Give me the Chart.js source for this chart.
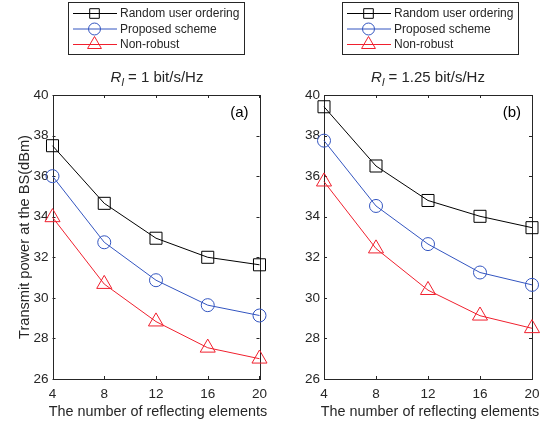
<!DOCTYPE html>
<html>
<head>
<meta charset="utf-8">
<script src="https://cdn.jsdelivr.net/npm/chart.js@4/dist/chart.umd.min.js"></script>
<style>
  html, body { margin: 0; padding: 0; background: #fff; }
  #wrap { position: relative; width: 548px; height: 425px; font-family: "Liberation Sans", Arial, sans-serif; }
  .box { position: absolute; top: 0; width: 274px; height: 425px; }
  .ttl { position: absolute; top: 68px; font-size: 15px; color: #262626; white-space: nowrap; transform: translateX(-50%); }
  .ttl sub { font-size: 11px; vertical-align: -4px; }
</style>
</head>
<body>
<div id="wrap">
  <div class="box" style="left:0"><canvas id="chartA" width="274" height="425"></canvas></div>
  <div class="box" style="left:274px"><canvas id="chartB" width="274" height="425"></canvas></div>
  <div class="ttl" style="left:157px"><i>R</i><sub><i>l</i></sub> = 1 bit/s/Hz</div>
  <div class="ttl" style="left:428px"><i>R</i><sub><i>l</i></sub> = 1.25 bit/s/Hz</div>
</div>
<script>
// numero de elementos refletores
const elementos = [4, 8, 12, 16, 20];
const yTicks = [26, 28, 30, 32, 34, 36, 38, 40];
const seriesNames = ['Random user ordering', 'Proposed scheme', 'Non-robust'];
const xTitulo = 'The number of reflecting elements';
const yTitulo = 'Transmit power at the BS(dBm)';

// (a) R_l = 1 bit/s/Hz
const randomA = [37.5, 34.66, 32.94, 32.0, 31.63];
const proposedA = [36.0, 32.74, 30.87, 29.64, 29.13];
const nonRobustA = [33.97, 30.68, 28.83, 27.54, 27.0];

// (b) R_l = 1.25 bit/s/Hz
const randomB = [39.42, 36.5, 34.8, 34.02, 33.46];
const proposedB = [37.75, 34.53, 32.65, 31.25, 30.64];
const nonRobustB = [35.73, 32.43, 30.38, 29.12, 28.5];

const axisColor = '#262626';
const estilos = [
  { cor: '#000000', ponto: 'rect', raio: 8.5 },
  { cor: '#3355c0', ponto: 'circle', raio: 6.5 },
  { cor: '#f0202e', ponto: 'triangle', raio: 8.7 },
];

function desenharMarcador(ctx, tipo, x, y, r) {
  ctx.beginPath();
  if (tipo === 'rect') {
    const s = r * Math.SQRT1_2;
    ctx.rect(x - s, y - s, 2 * s, 2 * s);
  } else if (tipo === 'circle') {
    ctx.arc(x, y, r, 0, Math.PI * 2);
  } else {
    let a = 0;
    ctx.moveTo(x + Math.sin(a) * r, y - Math.cos(a) * r);
    a += 2 * Math.PI / 3;
    ctx.lineTo(x + Math.sin(a) * r, y - Math.cos(a) * r);
    a += 2 * Math.PI / 3;
    ctx.lineTo(x + Math.sin(a) * r, y - Math.cos(a) * r);
    ctx.closePath();
  }
  ctx.stroke();
}

// caixa, ticks internos, legenda e rotulo (a)/(b)
const molduraPlugin = {
  id: 'moldura',
  beforeDatasetsDraw(chart) {
    const { ctx, chartArea: a, scales } = chart;
    ctx.save();
    ctx.strokeStyle = axisColor;
    ctx.lineWidth = 1;
    ctx.strokeRect(Math.round(a.left) + 0.5, Math.round(a.top) + 0.5, Math.round(a.right - a.left), Math.round(a.bottom - a.top));
    const t = 3;
    ctx.beginPath();
    elementos.forEach(v => {
      const x = Math.round(scales.x.getPixelForValue(v)) + 0.5;
      ctx.moveTo(x, a.bottom); ctx.lineTo(x, a.bottom - t);
      ctx.moveTo(x, a.top); ctx.lineTo(x, a.top + t);
    });
    yTicks.forEach(v => {
      const y = Math.round(scales.y.getPixelForValue(v)) + 0.5;
      ctx.moveTo(a.left, y); ctx.lineTo(a.left + t, y);
      ctx.moveTo(a.right, y); ctx.lineTo(a.right - t, y);
    });
    ctx.stroke();

    // titulo do eixo x (sem compressao de largura)
    ctx.fillStyle = axisColor;
    ctx.font = '14.4px "Liberation Sans", Arial, sans-serif';
    ctx.textAlign = 'center';
    ctx.textBaseline = 'middle';
    ctx.fillText(xTitulo, (a.left + a.right) / 2 + 2, 412.5);
    ctx.restore();
  },
  afterDraw(chart, args, opts) {
    const { ctx, chartArea: a } = chart;
    ctx.save();
    ctx.lineWidth = 1;
    ctx.fillStyle = '#000';
    ctx.font = '15px "Liberation Sans", Arial, sans-serif';
    ctx.textAlign = 'right';
    ctx.textBaseline = 'middle';
    ctx.fillText(opts.rotulo, a.right - 11, a.top + 18);

    // legenda
    const lx = opts.legX, ly = 2.5, lw = 176, lh = 52;
    ctx.fillStyle = '#fff';
    ctx.fillRect(lx, ly, lw, lh);
    ctx.strokeStyle = axisColor;
    ctx.strokeRect(lx + 0.5, ly, lw, lh);
    ctx.font = '12px "Liberation Sans", Arial, sans-serif';
    ctx.textAlign = 'left';
    seriesNames.forEach((nome, i) => {
      const y = 13 + i * 15.5;
      const e = estilos[i];
      ctx.strokeStyle = e.cor;
      ctx.beginPath();
      ctx.moveTo(lx + 5, y + 0.5); ctx.lineTo(lx + 49, y + 0.5);
      ctx.stroke();
      desenharMarcador(ctx, e.ponto, lx + 26.5, y + 0.5, e.raio * (i === 0 ? 0.8 : 0.92));
      ctx.fillStyle = axisColor;
      ctx.fillText(nome, lx + 52, y + 1);
    });
    ctx.restore();
  }
};

function criarGrafico(id, dados, rotulo, comTituloY, legX) {
  const datasets = dados.map((valores, i) => ({
    label: seriesNames[i],
    data: valores.map((v, k) => ({ x: elementos[k], y: v })),
    borderColor: estilos[i].cor,
    backgroundColor: 'rgba(0,0,0,0)',
    borderWidth: 1,
    pointStyle: estilos[i].ponto,
    pointRadius: estilos[i].raio,
    pointBorderWidth: 1,
    pointBorderColor: estilos[i].cor,
    pointBackgroundColor: 'rgba(0,0,0,0)',
    tension: 0,
    clip: false,
  }));

  return new Chart(document.getElementById(id), {
    type: 'line',
    data: { datasets },
    plugins: [molduraPlugin],
    options: {
      responsive: false,
      animation: false,
      layout: { padding: { left: 0, right: comTituloY ? 14.5 : 16, top: 95, bottom: 0 } },
      plugins: {
        legend: { display: false },
        tooltip: { enabled: false },
        moldura: { rotulo, legX },
      },
      scales: {
        x: {
          type: 'linear',
          min: 4, max: 20,
          afterBuildTicks: (s) => { s.ticks = elementos.map(v => ({ value: v })); },
          afterFit: (s) => { s.height = 46; },
          grid: { display: false, drawTicks: false },
          border: { display: false },
          ticks: { color: axisColor, font: { size: 13.5, family: '"Liberation Sans", Arial' }, padding: 7 },
        },
        y: {
          type: 'linear',
          min: 26, max: 40,
          afterBuildTicks: (s) => { s.ticks = yTicks.map(v => ({ value: v })); },
          afterFit: (s) => { s.width = comTituloY ? 52.5 : 50; },
          grid: { display: false, drawTicks: false },
          border: { display: false },
          ticks: { color: axisColor, font: { size: 13.5, family: '"Liberation Sans", Arial' }, padding: 4 },
          title: {
            display: comTituloY,
            text: yTitulo,
            color: axisColor,
            font: { size: 14.6, family: '"Liberation Sans", Arial' },
            padding: { top: 16, bottom: 0 },
          },
        },
      },
    },
  });
}

criarGrafico('chartA', [randomA, proposedA, nonRobustA], '(a)', true, 68);
criarGrafico('chartB', [randomB, proposedB, nonRobustB], '(b)', false, 68);
</script>
</body>
</html>
